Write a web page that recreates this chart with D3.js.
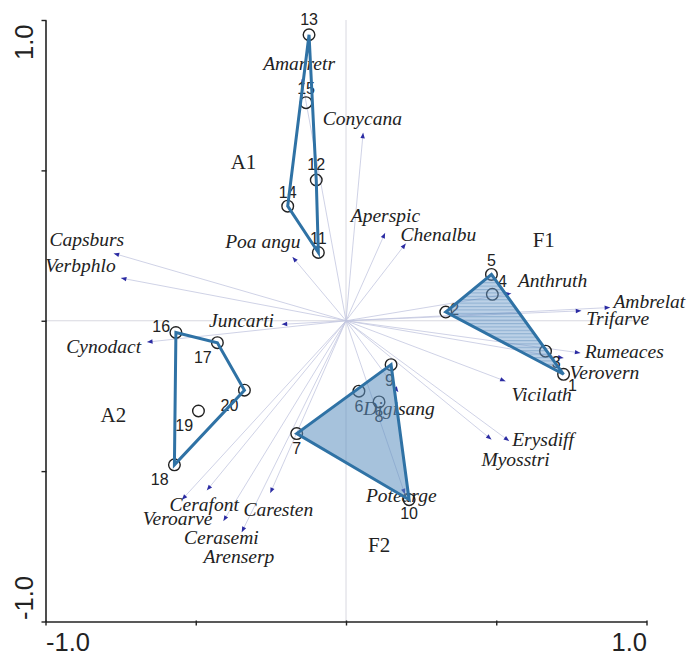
<!DOCTYPE html>
<html>
<head>
<meta charset="utf-8">
<script src="https://cdn.jsdelivr.net/npm/d3@7"></script>
<style>
  html, body { margin: 0; padding: 0; background: #ffffff; }
  svg { display: block; }
</style>
</head>
<body>
<svg id="chart" width="691" height="655"></svg>
<script>
// ---- Ordination scores ----
// Sample (relevé) scores on axes 1 and 2
const siteIds = [1, 2, 3, 4, 5, 6, 7, 8, 9, 10, 11, 12, 13, 14, 15, 16, 17, 18, 19, 20];
const siteX = [0.724, 0.332, 0.664, 0.487, 0.484, 0.043, -0.164, 0.110, 0.150, 0.210,
               -0.092, -0.099, -0.123, -0.194, -0.133, -0.566, -0.428, -0.571, -0.491, -0.338];
const siteY = [-0.178, 0.029, -0.101, 0.088, 0.154, -0.234, -0.375, -0.270, -0.146, -0.595,
               0.227, 0.468, 0.951, 0.381, 0.725, -0.039, -0.073, -0.479, -0.300, -0.231];

// Species scores (arrow tips)
const speciesNames = ["Capsburs", "Verbphlo", "Poa angu", "Amarretr", "Juncarti", "Conycana",
  "Aperspic", "Chenalbu", "Anthruth", "Ambrelat", "Trifarve", "Rumeaces", "Verovern", "Vicilath",
  "Digisang", "Erysdiff", "Myosstri", "Potearge", "Cynodact", "Cerafont", "Veroarve", "Cerasemi",
  "Arenserp", "Caresten"];
const speciesX = [-0.773, -0.749, -0.178, -0.147, -0.214, 0.057, 0.130, 0.199, 0.550, 0.879,
  0.783, 0.780, 0.724, 0.531, 0.174, 0.543, 0.484, 0.196, -0.662, -0.546, -0.408, -0.347,
  -0.463, -0.252];
const speciesY = [0.224, 0.142, 0.212, 0.804, -0.012, 0.625, 0.292, 0.257, 0.091, 0.044,
  0.033, -0.107, -0.124, -0.201, -0.237, -0.400, -0.395, -0.577, -0.071, -0.595, -0.666,
  -0.703, -0.564, -0.573];

// Site groups: hull vertex order and the group name position
const groupNames = ["A1", "A2", "F1", "F2"];
const groupHulls = [[13, 12, 11, 14], [16, 17, 20, 18], [5, 1, 2], [9, 10, 7]];
const groupFilled = [false, false, true, true];
const groupLabelX = [-0.341, -0.774, 0.658, 0.110];
const groupLabelY = [0.528, -0.314, 0.268, -0.747];

// Axis ticks
const tickValues = [-1, -0.5, 0, 0.5, 1];
const tickLabels = ["-1.0", "", "", "", "1.0"];

// ---- Label placement (pixel offsets from the mark) ----
const siteLabelDx = [9, 9, 10.7, 10, 0, 0, 0, 0, -1.7, 0, 0, 0, 0, 0, 0, -14.7, -14.6, -14.7, -14.3, -15];
const siteLabelDy = [11.7, -2.7, 11.7, -12.3, -14.3, 15.3, 14.7, 14.3, 15.7, 14, -14.3, -15, -15.7, -14, -14.7, -6.3, 15, 15, 14.6, 15.3];
const speciesLabelDx = [-64.3, -75.7, -67.3, -38.7, -72.7, -40.3, -34.3, -5.3, 6.6, 3.3, 5, 4.3, 6, 6,
  -35, 3, -10, -39, -80.7, -12.4, -80.6, -57.7, -3.4, -26.7];
const speciesLabelDy = [-14.3, -12.7, -15, -15.7, -4, -14.4, -17.7, -9.3, -12.6, -5.6, 7.6, -1.7, 14.6, 13.3,
  16, -1.7, 20, 1, 4, 4.7, -2.4, 5.6, 66, 16.6];

// ---- Scales ----
const x = d3.scaleLinear().domain([-1, 1]).range([45.5, 646.5]);
const y = d3.scaleLinear().domain([-1, 1]).range([621.5, 20]);

const svg = d3.select("#chart");

const hullColor = "#2f72a5";
const ink = "#222222";

// Pattern for the striped hull fill
const defs = svg.append("defs");
const stripes = defs.append("pattern")
  .attr("id", "stripes")
  .attr("patternUnits", "userSpaceOnUse")
  .attr("width", 8).attr("height", 3.4);
stripes.append("rect").attr("width", 8).attr("height", 3.4)
  .attr("fill", "#6a9acb").attr("fill-opacity", 0.45);
stripes.append("rect").attr("y", 0).attr("width", 8).attr("height", 1.1)
  .attr("fill", "#3f74ab").attr("fill-opacity", 0.35);

// Zero reference lines
svg.append("line")
  .attr("x1", x(0)).attr("x2", x(0)).attr("y1", y(1)).attr("y2", y(-1))
  .attr("stroke", "#d4d4dc").attr("stroke-width", 0.9);
svg.append("line")
  .attr("x1", x(-1)).attr("x2", x(1)).attr("y1", y(0)).attr("y2", y(0))
  .attr("stroke", "#d4d4dc").attr("stroke-width", 0.9);

// ---- Axes ----
const xAxis = d3.axisBottom(x).tickValues(tickValues)
  .tickFormat((d, i) => tickLabels[i]).tickSizeInner(4).tickSizeOuter(0);
const gx = svg.append("g").attr("transform", `translate(0,${y(-1)})`).call(xAxis);
gx.select(".domain").attr("stroke", ink).attr("stroke-width", 1.6);
gx.selectAll(".tick line").attr("stroke", ink).attr("stroke-width", 1.4).attr("y1", -1);
gx.selectAll(".tick text")
  .attr("font-family", "'Liberation Sans', Arial, sans-serif")
  .attr("font-size", 25.5).attr("fill", ink)
  .attr("dy", null).attr("y", 29)
  .attr("text-anchor", (d, i) => i === 0 ? "start" : "end");

const yAxis = d3.axisLeft(y).tickValues(tickValues)
  .tickFormat((d, i) => tickLabels[i]).tickSizeInner(4).tickSizeOuter(0);
const gy = svg.append("g").attr("transform", `translate(${x(-1)},0)`).call(yAxis);
gy.select(".domain").attr("stroke", ink).attr("stroke-width", 1.6);
gy.selectAll(".tick line").attr("stroke", ink).attr("stroke-width", 1.4).attr("x1", 1);
gy.selectAll(".tick text")
  .attr("font-family", "'Liberation Sans', Arial, sans-serif")
  .attr("font-size", 25.5).attr("fill", ink)
  .attr("dy", null)
  .attr("transform", "rotate(-90)")
  .attr("y", -12.5)
  .attr("x", (d, i) => i === 0 ? 2 : -4)
  .attr("text-anchor", (d, i) => i === 0 ? "start" : "end");

// ---- Species arrows ----
const species = speciesNames.map((name, i) => ({ name, sx: speciesX[i], sy: speciesY[i],
  dx: speciesLabelDx[i], dy: speciesLabelDy[i] }));

const gArrows = svg.append("g");
gArrows.selectAll("line").data(species).join("line")
  .attr("x1", x(0)).attr("y1", y(0))
  .attr("x2", d => x(d.sx)).attr("y2", d => y(d.sy))
  .attr("stroke", "#c3c6df").attr("stroke-width", 0.8);

gArrows.selectAll("path").data(species).join("path")
  .attr("d", d => {
    const tx = x(d.sx), ty = y(d.sy);
    const ang = Math.atan2(ty - y(0), tx - x(0));
    const L = 5.5, W = 2.2;
    const bx = tx - L * Math.cos(ang), by = ty - L * Math.sin(ang);
    const px = -Math.sin(ang) * W, py = Math.cos(ang) * W;
    return `M${tx},${ty}L${bx + px},${by + py}L${bx - px},${by - py}Z`;
  })
  .attr("fill", "#2b2ba3");

svg.append("g").selectAll("text").data(species).join("text")
  .attr("x", d => x(d.sx) + d.dx)
  .attr("y", d => y(d.sy) + d.dy)
  .attr("dominant-baseline", "central")
  .attr("font-family", "'Liberation Serif', 'Times New Roman', serif")
  .attr("font-style", "italic")
  .attr("font-size", 19.5)
  .attr("fill", ink)
  .text(d => d.name);

// ---- Sites ----
const sites = siteIds.map((id, i) => ({ id, sx: siteX[i], sy: siteY[i],
  dx: siteLabelDx[i], dy: siteLabelDy[i] }));
const byId = new Map(sites.map(s => [s.id, s]));

svg.append("g").selectAll("circle").data(sites).join("circle")
  .attr("cx", d => x(d.sx)).attr("cy", d => y(d.sy)).attr("r", 5.8)
  .attr("fill", "none").attr("stroke", ink).attr("stroke-width", 1.4);

svg.append("g").selectAll("text").data(sites).join("text")
  .attr("x", d => x(d.sx) + d.dx)
  .attr("y", d => y(d.sy) + d.dy)
  .attr("text-anchor", "middle")
  .attr("dominant-baseline", "central")
  .attr("font-family", "'Liberation Sans', Arial, sans-serif")
  .attr("font-size", 16)
  .attr("fill", ink)
  .text(d => d.id);

// ---- Group hulls ----
const hullLine = d3.line().x(d => x(d.sx)).y(d => y(d.sy)).curve(d3.curveLinearClosed);
const groups = groupNames.map((name, i) => ({ name, pts: groupHulls[i].map(id => byId.get(id)),
  filled: groupFilled[i], lx: groupLabelX[i], ly: groupLabelY[i] }));

const gHull = svg.append("g");
gHull.selectAll("path").data(groups).join("path")
  .attr("d", d => hullLine(d.pts))
  .attr("fill", d => !d.filled ? "none" : (d.name === "F1" ? "url(#stripes)" : "#5d8fc0"))
  .attr("fill-opacity", d => d.name === "F2" ? 0.55 : 1)
  .attr("stroke", hullColor)
  .attr("stroke-width", 3)
  .attr("stroke-linejoin", "miter");

// Group names
svg.append("g").selectAll("text").data(groups).join("text")
  .attr("x", d => x(d.lx)).attr("y", d => y(d.ly))
  .attr("text-anchor", "middle")
  .attr("dominant-baseline", "central")
  .attr("font-family", "'Liberation Serif', 'Times New Roman', serif")
  .attr("font-size", 21)
  .attr("fill", ink)
  .text(d => d.name);
</script>
</body>
</html>
